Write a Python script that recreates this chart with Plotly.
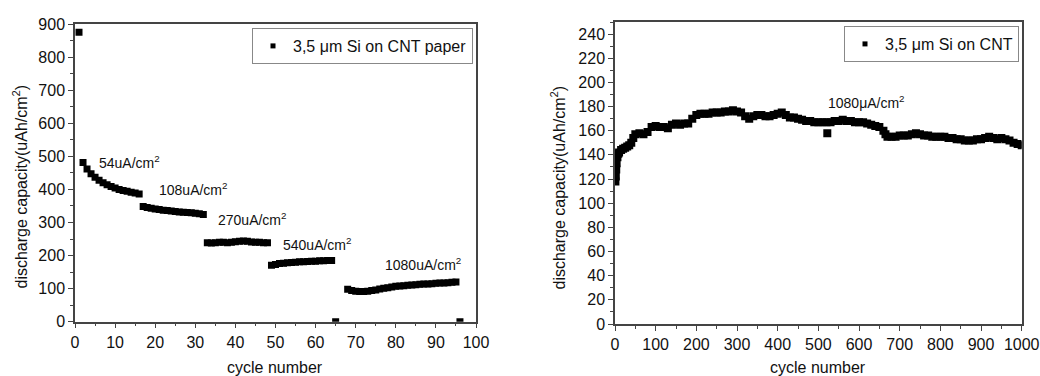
import plotly.graph_objects as go

# ---------------- Left panel data (rate test) ----------------
left_cycles = [1,
               2, 3, 4, 5, 6, 7, 8, 9, 10, 11, 12, 13, 14, 15, 16,
               17, 18, 19, 20, 21, 22, 23, 24, 25, 26, 27, 28, 29, 30, 31, 32,
               33, 34, 35, 36, 37, 38, 39, 40, 41, 42, 43, 44, 45, 46, 47, 48,
               49, 50, 51, 52, 53, 54, 55, 56, 57, 58, 59, 60, 61, 62, 63, 64,
               65,
               68, 69, 70, 71, 72, 73, 74, 75, 76, 77, 78, 79, 80, 81, 82, 83,
               84, 85, 86, 87, 88, 89, 90, 91, 92, 93, 94, 95,
               96]
left_capacity = [875,
                 481, 462, 447, 437, 428, 420, 414, 409, 404, 400, 397, 394, 391, 389, 386,
                 348, 345, 343, 341, 339, 337, 336, 335, 333, 332, 331, 330, 329, 328, 326, 324,
                 239, 238, 239, 240, 240, 239, 240, 242, 243, 244, 243, 241, 240, 240, 239, 239,
                 171, 173, 176, 177, 178, 179, 180, 181, 181, 182, 183, 183, 184, 184, 185, 185,
                 0,
                 98, 94, 92, 91, 91, 92, 94, 96, 99, 101, 103, 105, 107, 108, 109, 110,
                 111, 112, 113, 114, 114, 115, 116, 117, 117, 118, 119, 120,
                 0]
left_labels = ["54uA/cm<sup>2</sup>", "108uA/cm<sup>2</sup>", "270uA/cm<sup>2</sup>",
               "540uA/cm<sup>2</sup>", "1080uA/cm<sup>2</sup>"]
left_label_x = [5.4, 20.5, 35.2, 51.3, 76.7]
left_label_y = [484, 402, 310, 234, 173]

# ---------------- Right panel data (long cycling) ----------------
right_cycles = [1, 2, 3, 4, 6, 8, 10, 15, 20, 25, 30, 35, 40, 45, 50, 60, 70, 80, 90, 100,
                110, 120, 130, 140, 150, 160, 170, 180, 190, 200, 210, 220, 230, 240,
                250, 260, 270, 280, 290, 300, 310, 320, 330, 340, 350, 360, 370, 380,
                390, 400, 410, 420, 430, 440, 450, 460, 470, 480, 490, 500, 510, 520,
                522, 530, 540, 550, 560, 570, 580, 590, 600, 610, 620, 630, 640, 650,
                660, 665, 670, 680, 690, 700, 710, 720, 730, 740, 750, 760, 770, 780, 790,
                800, 810, 820, 830, 840, 850, 860, 870, 880, 890, 900, 910, 920, 930,
                940, 950, 960, 970, 980, 990, 1000]
right_capacity = [118, 122, 128, 133, 138, 141, 142, 144, 145, 146, 147, 148, 150, 154, 157, 158, 157, 159, 163, 164,
                  163, 163, 162, 165, 166, 165, 166, 166, 170, 173, 174, 174, 174, 175,
                  175, 175, 176, 176, 177, 176, 175, 172, 170, 172, 173, 173, 172, 172,
                  173, 174, 175, 173, 171, 171, 170, 169, 168, 168, 167, 167, 167, 167,
                  158, 167, 168, 168, 169, 168, 168, 167, 167, 167, 166, 165, 164, 163,
                  160, 157, 155, 155, 155, 156, 156, 156, 157, 158, 157, 156, 156, 155, 155,
                  155, 155, 154, 154, 153, 153, 152, 152, 152, 153, 153, 154, 155, 154,
                  153, 154, 153, 152, 150, 149, 148]
right_label = "1080\u03bcA/cm<sup>2</sup>"
right_label_x = 520
right_label_y = 184

left_name = "3,5 \u03bcm Si on CNT paper"
right_name = "3,5 \u03bcm Si on CNT"

FONT = "Liberation Sans, Arial, sans-serif"
AX = "#444444"

fig = go.Figure()
fig.add_trace(go.Scatter(
    x=left_cycles, y=left_capacity, mode="markers", name=left_name, showlegend=False,
    marker=dict(symbol="square", size=7, color="black", line=dict(width=0)),
    xaxis="x", yaxis="y"))
fig.add_trace(go.Scatter(
    x=right_cycles, y=right_capacity, mode="markers", name=right_name, showlegend=False,
    marker=dict(symbol="square", size=8, color="black", line=dict(width=0)),
    xaxis="x2", yaxis="y2"))
# legend entries (small square symbols like the reference legend)
fig.add_trace(go.Scatter(
    x=[None], y=[None], mode="markers", name=left_name,
    marker=dict(symbol="square", size=5, color="black", line=dict(width=0)),
    xaxis="x", yaxis="y", legend="legend"))
fig.add_trace(go.Scatter(
    x=[None], y=[None], mode="markers", name=right_name,
    marker=dict(symbol="square", size=5, color="black", line=dict(width=0)),
    xaxis="x2", yaxis="y2", legend="legend2"))

def axis(domain, rng, dtick, mdtick, anchor):
    return dict(domain=domain, range=rng, anchor=anchor, dtick=dtick, tick0=0,
                ticks="outside", ticklen=5, tickwidth=1.3, tickcolor=AX,
                showline=True, linecolor=AX, linewidth=1.5, mirror=True,
                showgrid=False, zeroline=False, automargin=False,
                tickfont=dict(family=FONT, size=16, color="#111"),
                minor=dict(dtick=mdtick, tick0=0, ticks="outside", ticklen=3,
                           tickwidth=1.3, tickcolor=AX, showgrid=False))

annotations = []
for t, x, y in zip(left_labels, left_label_x, left_label_y):
    annotations.append(dict(text=t, x=x, y=y, xref="x", yref="y", xanchor="left",
                            yanchor="middle", showarrow=False,
                            font=dict(family=FONT, size=14, color="#111")))
annotations.append(dict(text=right_label, x=right_label_x, y=right_label_y, xref="x2", yref="y2",
                        xanchor="left", yanchor="middle", showarrow=False,
                        font=dict(family=FONT, size=14, color="#111")))
title_font = dict(family=FONT, size=16, color="#111")
annotations += [
    dict(text="cycle number", x=275 / 1040, y=1 - 367 / 376, xref="paper", yref="paper",
         xanchor="center", yanchor="middle", showarrow=False, font=title_font),
    dict(text="cycle number", x=818 / 1040, y=1 - 367 / 376, xref="paper", yref="paper",
         xanchor="center", yanchor="middle", showarrow=False, font=title_font),
    dict(text="discharge capacity(uAh/cm<sup>2</sup>)", x=20 / 1040, y=1 - 186.5 / 376,
         xref="paper", yref="paper", xanchor="center", yanchor="middle", textangle=-90,
         showarrow=False, font=title_font),
    dict(text="discharge capacity(uAh/cm<sup>2</sup>)", x=558 / 1040, y=1 - 187.5 / 376,
         xref="paper", yref="paper", xanchor="center", yanchor="middle", textangle=-90,
         showarrow=False, font=title_font),
]

legend_common = dict(bgcolor="white", bordercolor="#888", borderwidth=1,
                     font=dict(family=FONT, size=16, color="#111"),
                     xanchor="right", yanchor="top", itemclick=False,
                     tracegroupgap=0, itemwidth=30)

fig.update_layout(
    width=1040, height=376, margin=dict(l=0, r=0, t=0, b=0),
    paper_bgcolor="white", plot_bgcolor="white", template="none",
    xaxis=axis([75 / 1040, 476 / 1040], [0, 100], 10, 5, "y"),
    yaxis=axis([1 - 321.7 / 376, 1 - 24 / 376], [0, 900], 100, 50, "x"),
    xaxis2=axis([615 / 1040, 1021.7 / 1040], [0, 1000], 100, 50, "y2"),
    yaxis2=axis([1 - 324 / 376, 1 - 22 / 376], [0, 250], 20, 10, "x2"),
    legend=dict(x=473 / 1040, y=1 - 28 / 376, **legend_common),
    legend2=dict(x=1019 / 1040, y=1 - 26 / 376, **legend_common),
    annotations=annotations,
    showlegend=True,
)

fig.write_html("out.html")
